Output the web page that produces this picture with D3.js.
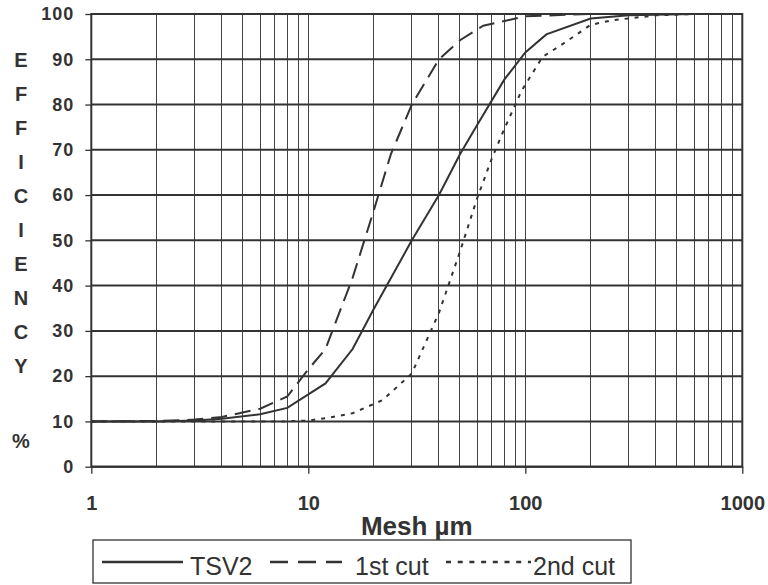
<!DOCTYPE html>
<html>
<head>
<meta charset="utf-8">
<script src="https://cdn.jsdelivr.net/npm/d3@7"></script>
<style>
  body { margin: 0; background: #fff; }
  svg { display: block; font-family: "Liberation Sans", Arial, sans-serif; }
</style>
</head>
<body>
<div id="chart"></div>
<script>
// mesh sizes (µm) and efficiency (%)
var tsvMesh  = [1, 2, 3, 4, 6, 8, 12, 16, 20, 30, 40, 50, 60, 80, 100, 125, 200, 300, 600];
var tsvEff   = [10, 10, 10.2, 10.6, 11.6, 13, 18.4, 26, 34.8, 50, 60, 69, 75.5, 85.5, 91.5, 95.5, 99, 99.7, 100];

var cut1Mesh = [1, 2, 3, 4, 6, 8, 10, 12, 16, 20, 24, 30, 40, 50, 64, 100, 200, 600];
var cut1Eff  = [10, 10.1, 10.4, 11, 12.8, 15.5, 21.5, 26, 41.7, 56.5, 69, 80, 90, 94.2, 97.4, 99.5, 100, 100];

var cut2Mesh = [1, 4, 8, 10, 12, 16, 22, 30, 40, 50, 60, 70, 80, 90, 96, 120, 150, 200, 250, 400, 600];
var cut2Eff  = [10, 10, 10, 10.2, 10.7, 11.8, 14.7, 20.6, 34, 47.5, 59.3, 68, 74.6, 80, 83, 90.5, 93.5, 97.6, 98.6, 99.7, 100];

var xTicks = [1, 10, 100, 1000];
var yTicks = [0, 10, 20, 30, 40, 50, 60, 70, 80, 90, 100];
var yLetters = ["E", "F", "F", "I", "C", "I", "E", "N", "C", "Y"];
var seriesNames = ["TSV2", "1st cut", "2nd cut"];

(function() {
    var W = 768, H = 585,
        left = 91.3, right = 742.3, top = 14, bottom = 466.7,
        ink = "#333";

    var svg = d3.select("#chart").append("svg")
        .attr("width", W)
        .attr("height", H);

    var x = d3.scaleLog().domain([1, 1000]).range([left, right]);
    var y = d3.scaleLinear().domain([0, 100]).range([bottom, top]);

    // vertical grid: every 1..9 step inside each decade
    var vLines = [];
    [1, 10, 100].forEach(function(d) {
        for (var k = 2; k <= 10; k++) vLines.push(d * k);
    });
    svg.append("g").selectAll("line").data(vLines)
        .enter().append("line")
        .attr("x1", function(d) { return x(d); })
        .attr("x2", function(d) { return x(d); })
        .attr("y1", top)
        .attr("y2", bottom)
        .attr("stroke", "#444")
        .attr("stroke-width", 1)
        .attr("shape-rendering", "crispEdges");

    // horizontal grid
    svg.append("g").selectAll("line").data(yTicks)
        .enter().append("line")
        .attr("x1", left)
        .attr("x2", right)
        .attr("y1", function(d) { return y(d); })
        .attr("y2", function(d) { return y(d); })
        .attr("stroke", ink)
        .attr("stroke-width", 2);

    // plot border
    svg.append("rect")
        .attr("x", left).attr("y", top)
        .attr("width", right - left).attr("height", bottom - top)
        .attr("fill", "none")
        .attr("stroke", ink)
        .attr("stroke-width", 2);

    // y axis
    var yAxis = svg.append("g")
        .attr("transform", "translate(" + left + ",0)")
        .call(d3.axisLeft(y).tickValues(yTicks).tickSize(6).tickPadding(11));
    yAxis.select(".domain").remove();
    yAxis.selectAll("line").attr("stroke", ink).attr("stroke-width", 1.3);
    yAxis.selectAll("text")
        .attr("fill", ink)
        .style("font-size", "18px")
        .style("font-weight", "bold")
        .style("letter-spacing", "1px");

    // x axis
    var xAxis = svg.append("g")
        .attr("transform", "translate(0," + bottom + ")")
        .call(d3.axisBottom(x).tickValues(xTicks).tickSize(7).tickPadding(22)
            .tickFormat(d3.format("d")));
    xAxis.select(".domain").remove();
    xAxis.selectAll("line").attr("stroke", ink).attr("stroke-width", 1.3);
    xAxis.selectAll("text")
        .attr("fill", ink)
        .style("font-size", "20px")
        .style("font-weight", "bold");

    // vertical letters of the y title
    svg.append("g").selectAll("text").data(yLetters)
        .enter().append("text")
        .attr("x", 21)
        .attr("y", function(d, i) { return 60 + 34 * i; })
        .attr("dy", "0.36em")
        .attr("text-anchor", "middle")
        .attr("fill", ink)
        .style("font-size", "20px")
        .style("font-weight", "bold")
        .text(function(d) { return d; });
    svg.append("text")
        .attr("x", 21).attr("y", 441).attr("dy", "0.36em")
        .attr("text-anchor", "middle")
        .attr("fill", ink)
        .style("font-size", "20px")
        .style("font-weight", "bold")
        .text("%");

    // x title
    svg.append("text")
        .attr("x", (left + right) / 2)
        .attr("y", 535)
        .attr("text-anchor", "middle")
        .attr("fill", ink)
        .style("font-size", "26px")
        .style("font-weight", "bold")
        .text("Mesh µm");

    // curves
    var series = [
        { name: seriesNames[0], mesh: tsvMesh,  eff: tsvEff,  dash: null,   legDash: null },
        { name: seriesNames[1], mesh: cut1Mesh, eff: cut1Eff, dash: "16,8", legDash: "18,10" },
        { name: seriesNames[2], mesh: cut2Mesh, eff: cut2Eff, dash: "4,6",  legDash: "5,6.7" }
    ];

    var line = d3.line()
        .x(function(d) { return x(d[0]); })
        .y(function(d) { return y(d[1]); });

    svg.append("g").selectAll("path").data(series)
        .enter().append("path")
        .attr("d", function(s) { return line(d3.zip(s.mesh, s.eff)); })
        .attr("fill", "none")
        .attr("stroke", ink)
        .attr("stroke-width", 2)
        .attr("stroke-dasharray", function(s) { return s.dash; });

    // legend
    var leg = svg.append("g");
    leg.append("rect")
        .attr("x", 93).attr("y", 540)
        .attr("width", 538).attr("height", 43)
        .attr("fill", "#fff")
        .attr("stroke", ink)
        .attr("stroke-width", 1.3);

    var legItems = [
        { x1: 102, x2: 183, tx: 190 },
        { x1: 270, x2: 342, tx: 355 },
        { x1: 446, x2: 531, tx: 533 }
    ];
    legItems.forEach(function(it, i) {
        leg.append("line")
            .attr("x1", it.x1).attr("x2", it.x2)
            .attr("y1", 562).attr("y2", 562)
            .attr("stroke", ink)
            .attr("stroke-width", 2.3)
            .attr("stroke-dasharray", series[i].legDash);
        leg.append("text")
            .attr("x", it.tx).attr("y", 575)
            .attr("fill", ink)
            .style("font-size", "25px")
            .text(series[i].name);
    });
})();
</script>
</body>
</html>
